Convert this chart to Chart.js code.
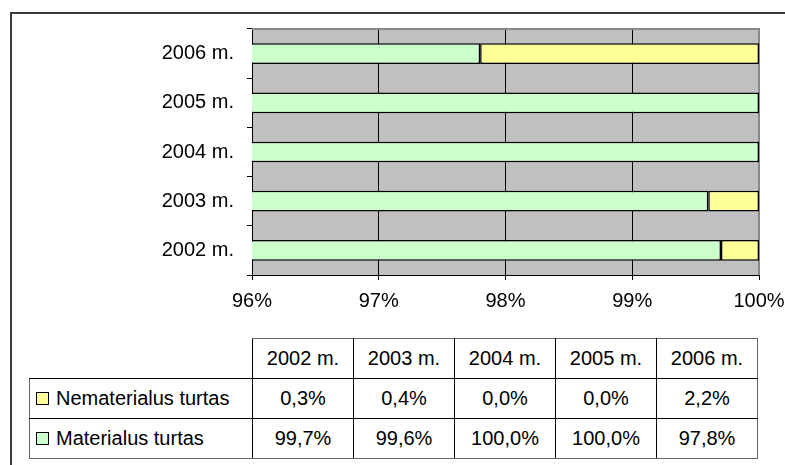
<!DOCTYPE html>
<html lang="lt">
<head>
<meta charset="UTF-8">
<title>Turtas</title>
<script src="https://cdn.jsdelivr.net/npm/chart.js"></script>
<style>
  html, body {
    margin: 0;
    padding: 0;
    background: #fff;
    font-family: "Liberation Sans", Arial, sans-serif;
  }
  .frame {
    position: absolute;
    left: 10px;
    top: 12px;
    width: 773px;
    height: 451px;
    border-top: 2px solid #3a3a3a;
    border-left: 2px solid #3a3a3a;
  }
  .chart-box {
    position: absolute;
    left: 0;
    top: 0;
    width: 785px;
    height: 330px;
  }
  table.data {
    position: absolute;
    left: 29px;
    top: 338px;
    border-collapse: collapse;
    font-size: 20px;
    color: #000;
  }
  table.data td {
    border: 1px solid #000;
    text-align: center;
    padding: 0;
    height: 39px;
    width: 100px;
  }
  table.data td.name {
    width: 222px;
    text-align: left;
    border-left: 1px solid #666;
  }
  table.data td.blank {
    border: none;
  }
  table.data tr:last-child td {
    border-bottom: 1px solid #666;
  }
  table.data td:last-child {
    border-right: 1px solid #666;
  }
  table.data tr:first-child td:not(.blank) {
    border-top: 1px solid #666;
  }
  .key {
    display: inline-block;
    width: 11px;
    height: 11px;
    border: 1px solid #000;
    margin: 0 7px 0 6px;
    vertical-align: 0px;
  }
</style>
</head>
<body>
<div class="frame"></div>
<div class="chart-box">
  <canvas id="chart" width="785" height="330"></canvas>
</div>
<table class="data" id="tbl"></table>
<script>
  const categories = ['2002 m.', '2003 m.', '2004 m.', '2005 m.', '2006 m.'];
  const nematerialus = [0.3, 0.4, 0.0, 0.0, 2.2];
  const materialus = [99.7, 99.6, 100.0, 100.0, 97.8];
  const xTicks = [96, 97, 98, 99, 100];

  const series = [
    { label: 'Materialus turtas', data: materialus, color: '#CCFFCC' },
    { label: 'Nematerialus turtas', data: nematerialus, color: '#FFFF99' }
  ];

  const font = { family: '"Liberation Sans", Arial, sans-serif', size: 20 };

  // gray plot background + gray top/right edge
  const plotArea = {
    id: 'plotArea',
    beforeDraw(chart) {
      const a = chart.chartArea, c = chart.ctx;
      c.save();
      c.fillStyle = '#C0C0C0';
      c.fillRect(a.left, a.top, a.right - a.left, a.bottom - a.top);
      c.restore();
    },
    beforeDatasetsDraw(chart) {
      const a = chart.chartArea, c = chart.ctx;
      c.save();
      c.strokeStyle = '#888';
      c.lineWidth = 2;
      c.beginPath();
      c.moveTo(a.left, a.top);
      c.lineTo(a.right, a.top);
      c.lineTo(a.right, a.bottom);
      c.stroke();
      c.restore();
    }
  };

  var ctx = document.getElementById('chart').getContext('2d');
  var chart = new Chart(ctx, {
    type: 'bar',
    data: {
      labels: categories,
      datasets: series.map(s => ({
        label: s.label,
        data: s.data,
        backgroundColor: s.color,
        borderColor: '#000',
        borderWidth: 1.5,
        borderSkipped: false,
        barPercentage: 0.42,
        categoryPercentage: 1.0
      }))
    },
    options: {
      indexAxis: 'y',
      responsive: false,
      animation: false,
      layout: { padding: { top: 29, right: 26, left: 0, bottom: 0 } },
      plugins: { legend: { display: false }, tooltip: { enabled: false } },
      scales: {
        x: {
          stacked: true,
          min: xTicks[0],
          max: xTicks[xTicks.length - 1],
          afterBuildTicks(scale) { scale.ticks = xTicks.map(v => ({ value: v })); },
          afterFit(scale) {
            scale.height = 55;
            scale.paddingLeft = 0;
            scale.paddingRight = 0;
          },
          ticks: {
            color: '#000',
            font: font,
            padding: 9,
            maxRotation: 0,
            callback: v => v + '%'
          },
          grid: { color: '#000', lineWidth: 1, tickLength: 5 },
          border: { color: '#000', width: 1 }
        },
        y: {
          stacked: true,
          reverse: true,
          afterFit(scale) { scale.width = 252; },
          ticks: { color: '#000', font: font, padding: 13 },
          grid: { drawOnChartArea: false, color: '#000', tickLength: 5, offset: true },
          border: { color: '#000', width: 1 }
        }
      }
    },
    plugins: [plotArea]
  });

  // data table under the chart
  const tbl = document.getElementById('tbl');
  let html = '<tr><td class="blank name"></td>' + categories.map(c => '<td>' + c + '</td>').join('') + '</tr>';
  series.slice().reverse().forEach(s => {
    html += '<tr><td class="name"><span class="key" style="background:' + s.color + '"></span>' + s.label + '</td>' +
      s.data.map(v => '<td>' + v.toFixed(1).replace('.', ',') + '%</td>').join('') + '</tr>';
  });
  tbl.innerHTML = html;
</script>
</body>
</html>
